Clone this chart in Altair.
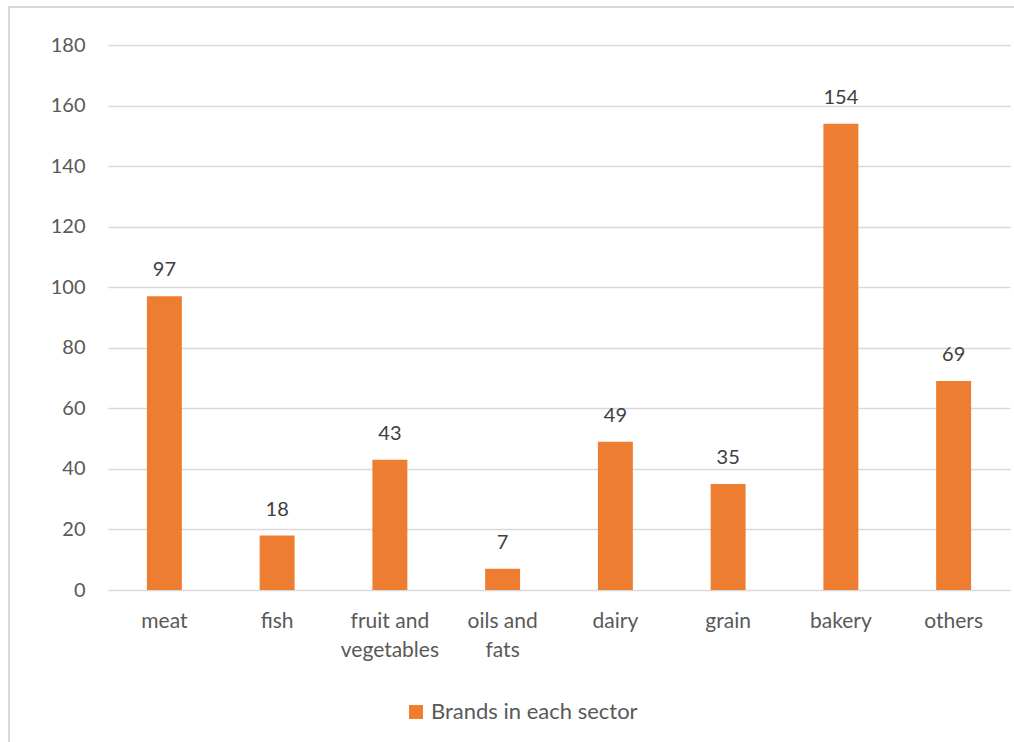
import altair as alt
import pandas as pd

categories = ["meat", "fish", "fruit and vegetables", "oils and fats", "dairy", "grain", "bakery", "others"]
values = [97, 18, 43, 7, 49, 35, 154, 69]
series_name = "Brands in each sector"
y_ticks = [0, 20, 40, 60, 80, 100, 120, 140, 160, 180]

df = pd.DataFrame({"category": categories, "value": values, "series": [series_name] * len(categories)})

FONT = "Lato"
W, H = 902, 545
PAD_L, PAD_T = 108, 45
PAD_R = 1014 - PAD_L - W
PAD_B = 742 - PAD_T - H

label_expr = ("datum.label == 'fruit and vegetables' ? ['fruit and', 'vegetables'] : "
              "datum.label == 'oils and fats' ? ['oils and', 'fats'] : datum.label")

x_enc = alt.X("category:N", sort=categories,
              scale=alt.Scale(paddingInner=0.69, paddingOuter=0.345),
              axis=alt.Axis(title=None, labelAngle=0, labelFont=FONT, labelFontSize=21,
                            labelColor="#595959", ticks=False, domain=False, labelPadding=20,
                            labelExpr=label_expr, labelLineHeight=29, labelBaseline="top"))
y_enc = alt.Y("value:Q", scale=alt.Scale(domain=[0, 180], nice=False),
              axis=alt.Axis(title=None, values=y_ticks, labelFont=FONT, labelFontSize=20,
                            labelColor="#595959", ticks=False, domain=False, labelPadding=23,
                            grid=True, gridColor="#d9d9d9", gridWidth=1.5))

bars = alt.Chart(df).mark_bar(color="#ED7D31").encode(
    x=x_enc, y=y_enc,
    color=alt.Color("series:N", scale=alt.Scale(range=["#ED7D31"]),
                    legend=alt.Legend(title=None, orient="none", legendX=297, legendY=656,
                                      symbolType="square", symbolSize=196, symbolStrokeWidth=0,
                                      labelFont=FONT, labelFontSize=22, labelColor="#595959",
                                      labelLimit=0,
                                      symbolFillColor="#ED7D31", labelOffset=4))
)

text = alt.Chart(df).mark_text(font=FONT, fontSize=20, color="#404040", dy=-16, baseline="bottom").encode(
    x=alt.X("category:N", sort=categories), y="value:Q", text="value:Q"
)

frame = alt.Chart(pd.DataFrame({"a": [0]})).mark_rect(fill=None, stroke="#d9d9d9", strokeWidth=2).encode(
    x=alt.value(9 - PAD_L), x2=alt.value(1014 - PAD_L + 20),
    y=alt.value(7 - PAD_T), y2=alt.value(742 - PAD_T + 20)
)

chart = alt.layer(frame, bars, text).properties(
    width=W, height=H,
    padding={"left": PAD_L, "top": PAD_T, "right": PAD_R, "bottom": PAD_B},
    autosize=alt.AutoSizeParams(type="none"),
    background="white"
).configure_view(stroke=None)

chart.save("out.html", embed_options={"renderer": "svg", "actions": False})
